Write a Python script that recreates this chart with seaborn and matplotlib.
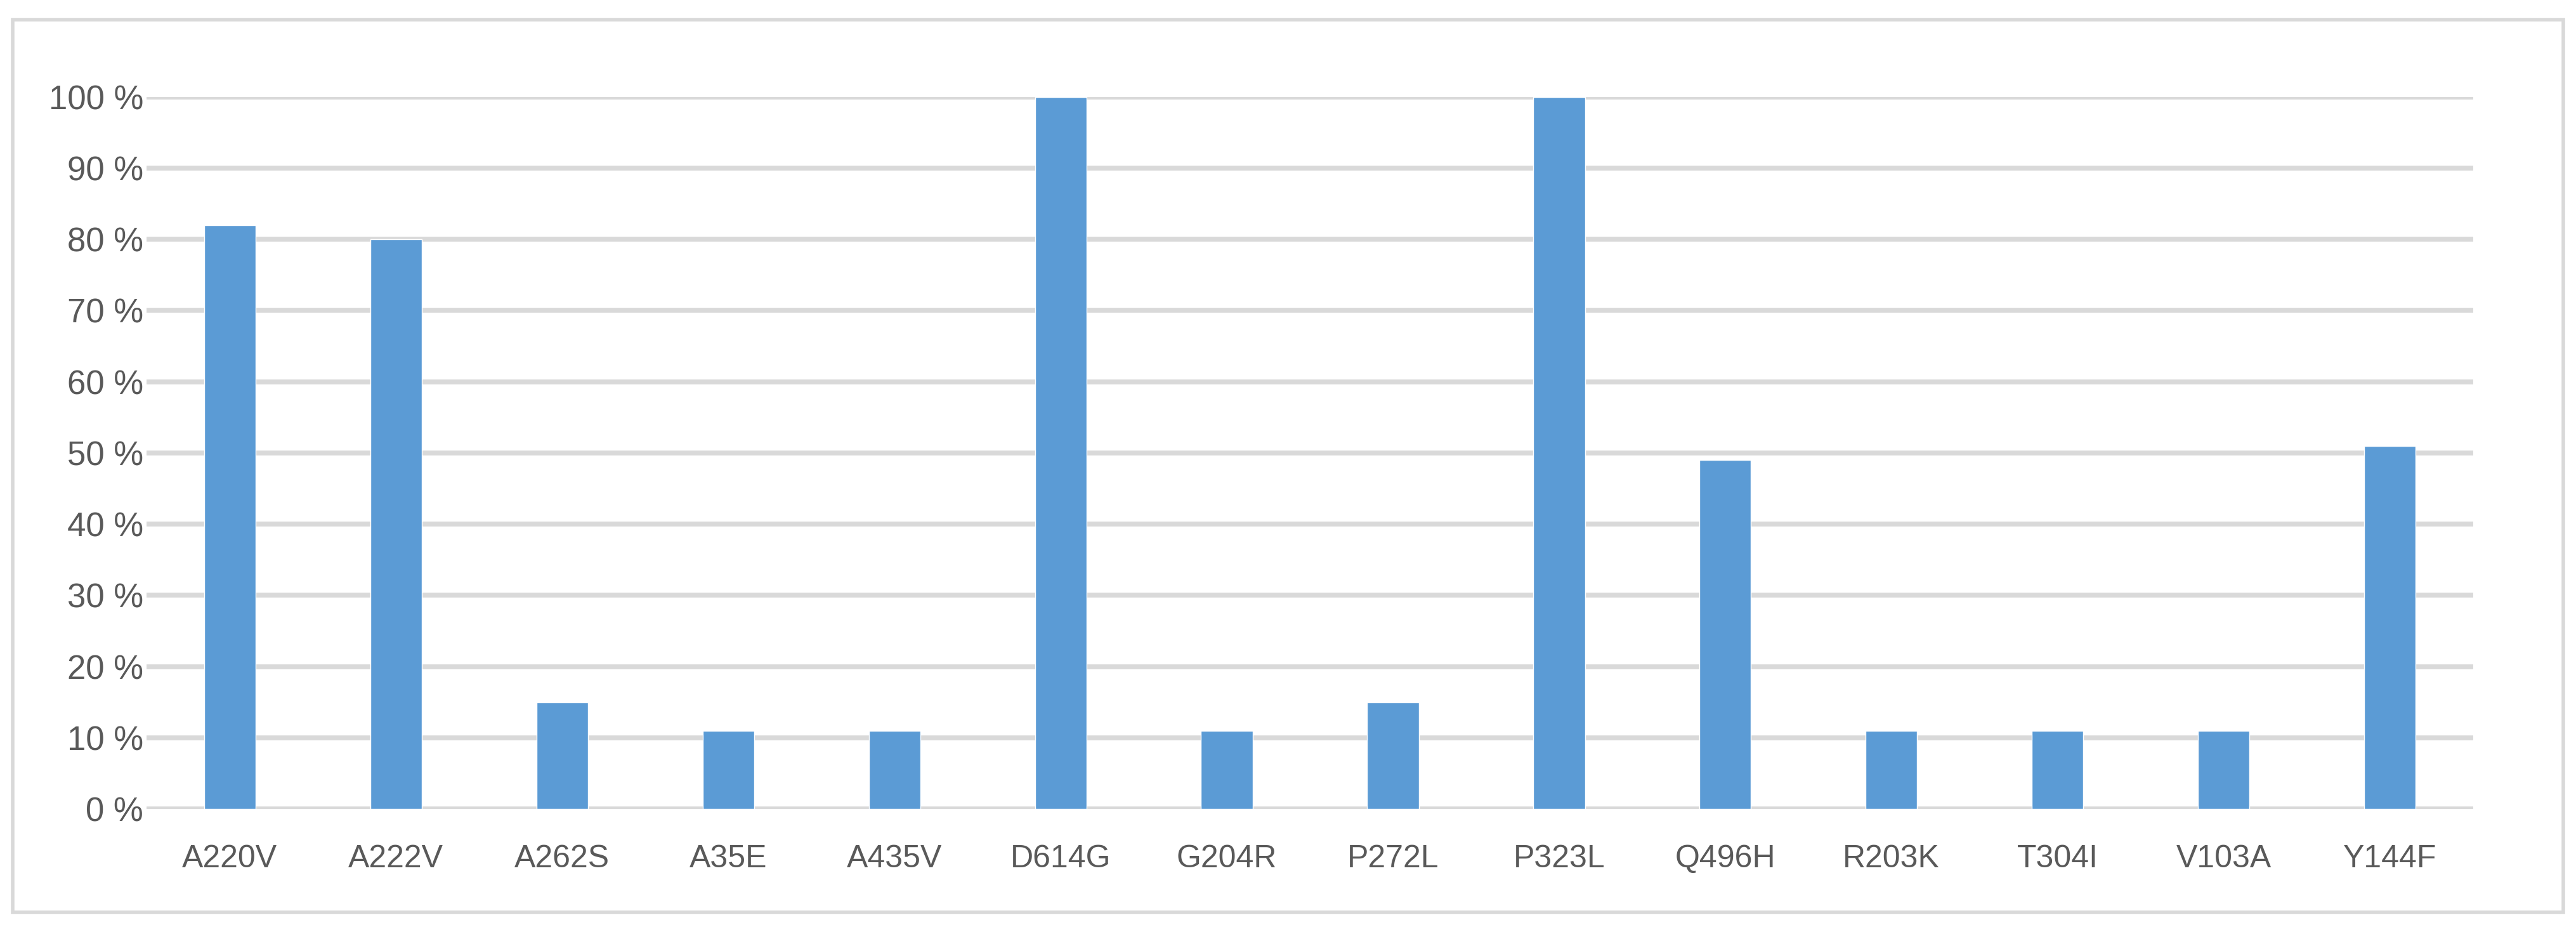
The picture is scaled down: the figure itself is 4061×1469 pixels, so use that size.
import matplotlib
matplotlib.use("Agg")
import matplotlib.pyplot as plt
import seaborn as sns
import pandas as pd
from matplotlib.patches import Rectangle

# Data
mutations = ["A220V", "A222V", "A262S", "A35E", "A435V", "D614G", "G204R",
             "P272L", "P323L", "Q496H", "R203K", "T304I", "V103A", "Y144F"]
percent = [82, 80, 15, 11, 11, 100, 11, 15, 100, 49, 11, 11, 11, 51]
y_ticks = [0, 10, 20, 30, 40, 50, 60, 70, 80, 90, 100]

df = pd.DataFrame({"mutation": mutations, "percent": percent})

sns.set_style("white")
plt.rcParams["font.family"] = ["Liberation Sans Narrow", "Liberation Sans", "DejaVu Sans"]

fig = plt.figure(figsize=(40.61, 14.69), dpi=100)
ax = fig.add_axes([0.057, 0.132, 0.903, 0.764])

sns.barplot(data=df, x="mutation", y="percent", color="#5B9BD5",
            saturation=1, width=0.31, ax=ax, zorder=3)

ax.set_ylim(0, 100)
ax.set_xlim(-0.5, len(mutations) - 0.5)
ax.set_yticks(y_ticks)
ax.set_yticklabels([f"{t} %" for t in y_ticks])
ax.yaxis.grid(True, color="#D9D9D9", linewidth=5.5, zorder=0)
ax.set_axisbelow(True)
ax.set_xlabel("")
ax.set_ylabel("")
for s in ax.spines.values():
    s.set_visible(False)
ax.tick_params(axis="x", length=0, pad=40, labelsize=36, labelcolor="#595959")
ax.tick_params(axis="y", length=0, pad=4, labelsize=38, labelcolor="#595959")

# outer chart frame
fig.add_artist(Rectangle((0.005, 0.021), 0.99, 0.958, transform=fig.transFigure,
                         fill=False, edgecolor="#D9D9D9", linewidth=4))

fig.savefig("out.png", dpi=100, facecolor="white")
